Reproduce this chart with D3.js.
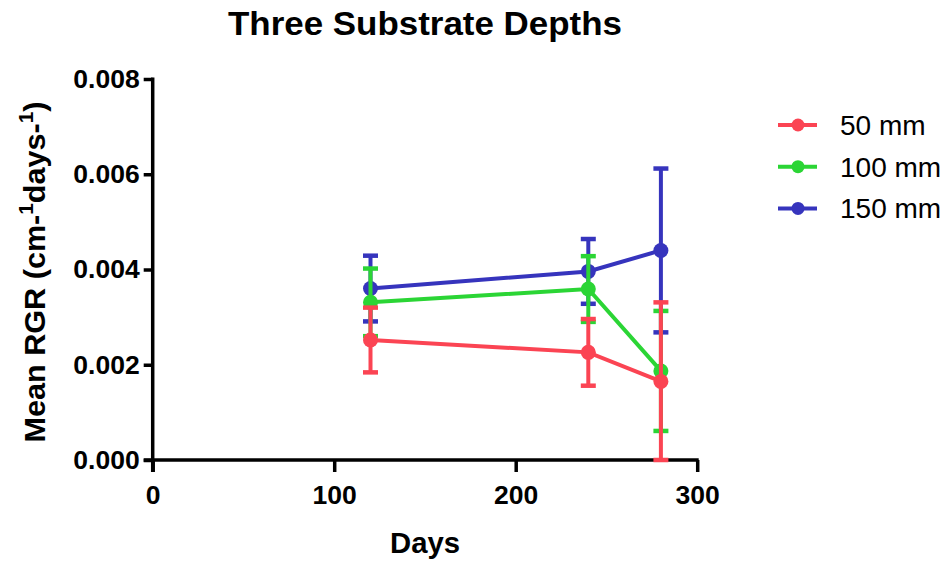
<!DOCTYPE html>
<html>
<head>
<meta charset="utf-8">
<script src="https://cdn.jsdelivr.net/npm/d3@7"></script>
<style>
  html, body { margin: 0; padding: 0; background: #fff; }
  svg { display: block; }
  text { font-family: "Liberation Sans", Arial, Helvetica, sans-serif; }
</style>
</head>
<body>
<svg id="chart" width="946" height="561"></svg>
<script>
// Sampling days
const days = [120, 240, 280];

// Series names
const seriesNames = ["50 mm", "100 mm", "150 mm"];

// Mean RGR per depth
const rgr50  = [0.00252, 0.00226, 0.00165];
const rgr100 = [0.00331, 0.00359, 0.00187];
const rgr150 = [0.00360, 0.00396, 0.00440];

// Error bar half-lengths per depth
const err50  = [0.00068, 0.00070, 0.00166];
const err100 = [0.00071, 0.00069, 0.00126];
const err150 = [0.00069, 0.00068, 0.00172];

// Axis ticks
const xTicks = [0, 100, 200, 300];
const yTicks = [0, 0.002, 0.004, 0.006, 0.008];

const colors = ["#fb4453", "#2bd535", "#3634bd"];

const series = [
  { name: seriesNames[0], values: rgr50,  errors: err50,  color: colors[0] },
  { name: seriesNames[1], values: rgr100, errors: err100, color: colors[1] },
  { name: seriesNames[2], values: rgr150, errors: err150, color: colors[2] }
];

const svg = d3.select("#chart");

const x = d3.scaleLinear().domain([0, 300]).range([152.7, 697.2]);
const y = d3.scaleLinear().domain([0, 0.008]).range([460, 79]);

// Title
svg.append("text")
  .attr("x", 425).attr("y", 35)
  .attr("text-anchor", "middle")
  .attr("font-size", 33).attr("font-weight", "bold")
  .attr("textLength", 394).attr("lengthAdjust", "spacingAndGlyphs")
  .text("Three Substrate Depths");

// Y axis
const yAxis = svg.append("g")
  .attr("transform", `translate(${x(0)},0)`)
  .call(d3.axisLeft(y).tickValues(yTicks).tickFormat(d3.format(".3f")).tickSize(9).tickPadding(4).tickSizeOuter(0));
yAxis.select(".domain").attr("stroke", "#000").attr("stroke-width", 3.5)
  .attr("d", `M0,${y(0.008) - 1.5}V${y(0) + 12}`);
yAxis.selectAll(".tick line").attr("stroke", "#000").attr("stroke-width", 3.5);
yAxis.selectAll(".tick text")
  .attr("fill", "#000").attr("font-size", 26.5).attr("font-weight", "bold")
  .attr("font-family", "'Liberation Sans', Arial, sans-serif");

// X axis
const xAxis = svg.append("g")
  .attr("transform", `translate(0,${y(0)})`)
  .call(d3.axisBottom(x).tickValues(xTicks).tickFormat(d3.format("d")).tickSize(12).tickPadding(13).tickSizeOuter(0));
xAxis.select(".domain").attr("stroke", "#000").attr("stroke-width", 3.5)
  .attr("d", `M${x(0) - 9},0H${x(300) + 1.5}`);
xAxis.selectAll(".tick line").attr("stroke", "#000").attr("stroke-width", 3.5);
xAxis.selectAll(".tick text")
  .attr("fill", "#000").attr("font-size", 26.5).attr("font-weight", "bold")
  .attr("font-family", "'Liberation Sans', Arial, sans-serif");

// Axis titles
svg.append("text")
  .attr("x", 425).attr("y", 553)
  .attr("text-anchor", "middle")
  .attr("font-size", 29).attr("font-weight", "bold")
  .attr("textLength", 70).attr("lengthAdjust", "spacingAndGlyphs")
  .text("Days");

const yTitle = svg.append("text")
  .attr("transform", "translate(45,272) rotate(-90)")
  .attr("text-anchor", "middle")
  .attr("font-size", 29.5).attr("font-weight", "bold")
  .attr("textLength", 341).attr("lengthAdjust", "spacingAndGlyphs");
yTitle.append("tspan").text("Mean RGR (cm-");
yTitle.append("tspan").attr("dy", -12).attr("font-size", 20).text("1");
yTitle.append("tspan").attr("dy", 12).text("days-");
yTitle.append("tspan").attr("dy", -12).attr("font-size", 20).text("1");
yTitle.append("tspan").attr("dy", 12).text(")");

// Data: draw 150 mm first so 50 mm ends up on top
const plot = svg.append("g");
const line = d3.line().x(d => x(d.day)).y(d => y(d.value));
const capW = 7.5;

[...series].reverse().forEach(s => {
  const pts = days.map((d, i) => ({ day: d, value: s.values[i], err: s.errors[i] }));
  const g = plot.append("g");

  // error bars
  pts.forEach(p => {
    const top = y(p.value + p.err), bot = y(Math.max(0, p.value - p.err));
    g.append("line").attr("x1", x(p.day)).attr("x2", x(p.day))
      .attr("y1", top).attr("y2", bot)
      .attr("stroke", s.color).attr("stroke-width", 4);
    [top, bot].forEach(yy => {
      g.append("line").attr("x1", x(p.day) - capW).attr("x2", x(p.day) + capW)
        .attr("y1", yy).attr("y2", yy)
        .attr("stroke", s.color).attr("stroke-width", 4.5);
    });
  });

  g.append("path").datum(pts)
    .attr("d", line).attr("fill", "none")
    .attr("stroke", s.color).attr("stroke-width", 4);

  g.selectAll("circle").data(pts).join("circle")
    .attr("cx", p => x(p.day)).attr("cy", p => y(p.value))
    .attr("r", 7.5).attr("fill", s.color);
});

// Legend
const legend = svg.append("g");
series.forEach((s, i) => {
  const ly = 125 + i * 41.7;
  legend.append("line").attr("x1", 778).attr("x2", 817)
    .attr("y1", ly).attr("y2", ly)
    .attr("stroke", s.color).attr("stroke-width", 4);
  legend.append("circle").attr("cx", 798).attr("cy", ly).attr("r", 6.5).attr("fill", s.color);
  legend.append("text").attr("x", 840).attr("y", ly)
    .attr("dy", "0.36em")
    .attr("font-size", 28)
    .text(s.name);
});
</script>
</body>
</html>
